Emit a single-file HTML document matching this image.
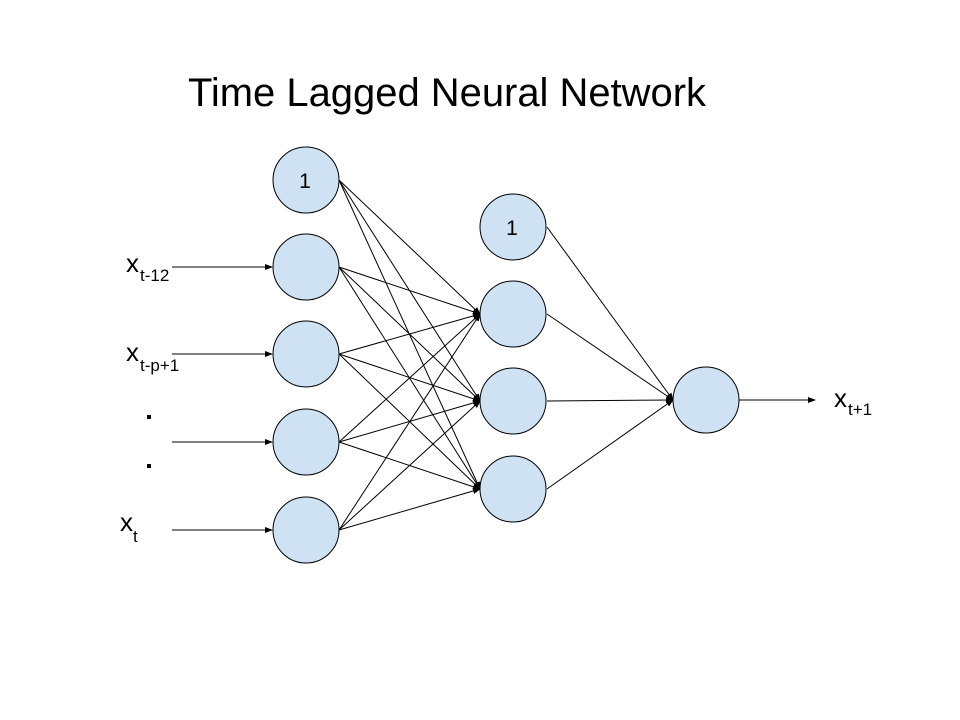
<!DOCTYPE html>
<html><head><meta charset="utf-8"><style>
html,body{margin:0;padding:0;background:#fff;}
svg{display:block;}
text{font-family:"Liberation Sans",Arial,sans-serif;fill:#000;}
</style></head><body>
<svg width="960" height="720" viewBox="0 0 960 720" xmlns="http://www.w3.org/2000/svg">
<defs>
<marker id="a" markerWidth="8" markerHeight="6" refX="7" refY="3" orient="auto" markerUnits="userSpaceOnUse">
<path d="M0,0 L8,3 L0,6 z" fill="#000"/>
</marker>
</defs>
<text x="188" y="106" font-size="40" textLength="518" lengthAdjust="spacingAndGlyphs">Time Lagged Neural Network</text>
<g stroke="#000" stroke-width="1" fill="none">
<g marker-end="url(#a)">
<line x1="339" y1="180" x2="480" y2="314"/><line x1="339" y1="180" x2="480" y2="401"/><line x1="339" y1="180" x2="480" y2="489"/>
<line x1="339" y1="267" x2="480" y2="314"/><line x1="339" y1="267" x2="480" y2="401"/><line x1="339" y1="267" x2="480" y2="489"/>
<line x1="339" y1="354" x2="480" y2="314"/><line x1="339" y1="354" x2="480" y2="401"/><line x1="339" y1="354" x2="480" y2="489"/>
<line x1="339" y1="442" x2="480" y2="314"/><line x1="339" y1="442" x2="480" y2="401"/><line x1="339" y1="442" x2="480" y2="489"/>
<line x1="339" y1="530" x2="480" y2="314"/><line x1="339" y1="530" x2="480" y2="401"/><line x1="339" y1="530" x2="480" y2="489"/>
<line x1="547" y1="227" x2="673" y2="400"/><line x1="547" y1="314" x2="673" y2="400"/><line x1="547" y1="401" x2="673" y2="400"/><line x1="547" y1="489" x2="673" y2="400"/>
<line x1="172" y1="267" x2="272" y2="267"/><line x1="172" y1="354" x2="272" y2="354"/><line x1="172" y1="442" x2="272" y2="442"/><line x1="172" y1="530" x2="272" y2="530"/>
<line x1="739" y1="400" x2="815" y2="400"/>
</g>
</g>
<g fill="#cfe2f3" stroke="#000" stroke-width="1">
<circle cx="306" cy="180" r="33"/><circle cx="306" cy="267" r="33"/><circle cx="306" cy="354" r="33"/><circle cx="306" cy="442" r="33"/><circle cx="306" cy="530" r="33"/>
<circle cx="513" cy="227" r="33"/><circle cx="513" cy="314" r="33"/><circle cx="513" cy="401" r="33"/><circle cx="513" cy="489" r="33"/>
<circle cx="706" cy="400" r="33"/>
</g>
<text x="305" y="188" font-size="21" text-anchor="middle">1</text>
<text x="512" y="235" font-size="21" text-anchor="middle">1</text>
<text x="126" y="272" font-size="26">x</text><text x="140" y="281" font-size="17">t-12</text>
<text x="126" y="361" font-size="26">x</text><text x="140" y="371" font-size="17">t-p+1</text>
<rect x="147" y="415" width="4" height="4" fill="#000"/>
<rect x="147" y="464" width="4" height="4" fill="#000"/>
<text x="120" y="531" font-size="26">x</text><text x="133" y="542" font-size="17">t</text>
<text x="834" y="407" font-size="26">x</text><text x="848" y="415" font-size="17">t+1</text>
</svg>
</body></html>
